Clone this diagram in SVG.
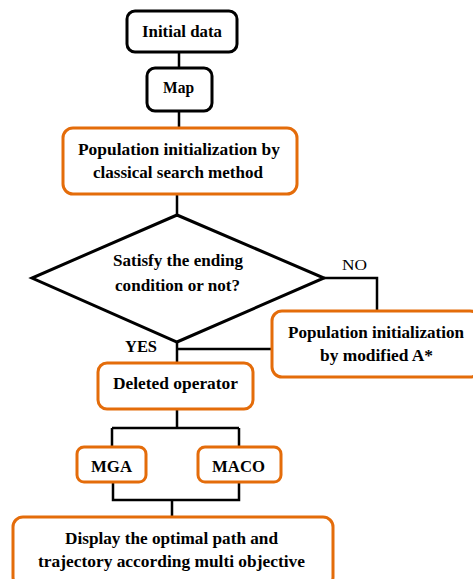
<svg xmlns="http://www.w3.org/2000/svg" width="473" height="579" viewBox="0 0 473 579">
<style>
.t{font-family:'Liberation Serif',serif;font-weight:700;font-size:17px;fill:#000;text-anchor:middle}
.l{font-family:'Liberation Serif',serif;font-size:15px;fill:#000;text-anchor:middle}
.bk{fill:#fff;stroke:#000;stroke-width:3}
.or{fill:#fff;stroke:#E46C0A;stroke-width:3}
.c{fill:none;stroke:#000;stroke-width:2.5}
</style>
<rect width="473" height="579" fill="#fff"/>
<g id="connectors">
<path class="c" d="M179 52V68M179 111V128M177 194V215M324 278H377V311M177 342V363M177 349H272M177 409V428M112 428H239M112 428V447M239 428V447M113 482V500H239V482M172 500V517"/>
</g>
<g id="initial"><rect class="bk" x="127" y="11" width="110" height="41" rx="8"/><text class="t" x="182" y="37" textLength="80" lengthAdjust="spacingAndGlyphs">Initial data</text></g>
<g id="map"><rect class="bk" x="147" y="68" width="65" height="43" rx="8"/><text class="t" x="178.5" y="93" textLength="31" lengthAdjust="spacingAndGlyphs">Map</text></g>
<g id="popinit"><rect class="or" x="63" y="128" width="234" height="66" rx="10"/><text class="t" x="179" y="155" textLength="202" lengthAdjust="spacingAndGlyphs">Population initialization by</text><text class="t" x="178" y="178" textLength="170" lengthAdjust="spacingAndGlyphs">classical search method</text></g>
<g id="decision"><polygon class="bk" points="177,215 324,278 177,342 32,278"/><text class="t" x="178" y="266" textLength="130" lengthAdjust="spacingAndGlyphs">Satisfy the ending</text><text class="t" x="177.5" y="291" textLength="125" lengthAdjust="spacingAndGlyphs">condition or not?</text></g>
<g id="no"><text class="l" x="354.5" y="270" textLength="25" lengthAdjust="spacingAndGlyphs">NO</text></g>
<g id="yes"><text class="t" x="141" y="352" textLength="32" lengthAdjust="spacingAndGlyphs">YES</text></g>
<g id="modified"><rect class="or" x="272" y="311" width="208" height="66" rx="10"/><text class="t" x="376" y="338" textLength="176" lengthAdjust="spacingAndGlyphs">Population initialization</text><text class="t" x="376.5" y="361" textLength="113" lengthAdjust="spacingAndGlyphs">by modified A*</text></g>
<g id="deleted"><rect class="or" x="98" y="363" width="155" height="46" rx="9"/><text class="t" x="175.5" y="389" textLength="125" lengthAdjust="spacingAndGlyphs">Deleted operator</text></g>
<g id="mga"><rect class="or" x="77" y="447" width="69" height="35" rx="7"/><text class="t" x="111.5" y="472" textLength="41" lengthAdjust="spacingAndGlyphs">MGA</text></g>
<g id="maco"><rect class="or" x="198" y="447" width="83" height="35" rx="7"/><text class="t" x="238.5" y="472" textLength="53" lengthAdjust="spacingAndGlyphs">MACO</text></g>
<g id="display"><rect class="or" x="13" y="517" width="320" height="70" rx="10"/><text class="t" x="171.5" y="544" textLength="213" lengthAdjust="spacingAndGlyphs">Display the optimal path and</text><text class="t" x="171.5" y="567" textLength="267" lengthAdjust="spacingAndGlyphs">trajectory according multi objective</text></g>
</svg>
